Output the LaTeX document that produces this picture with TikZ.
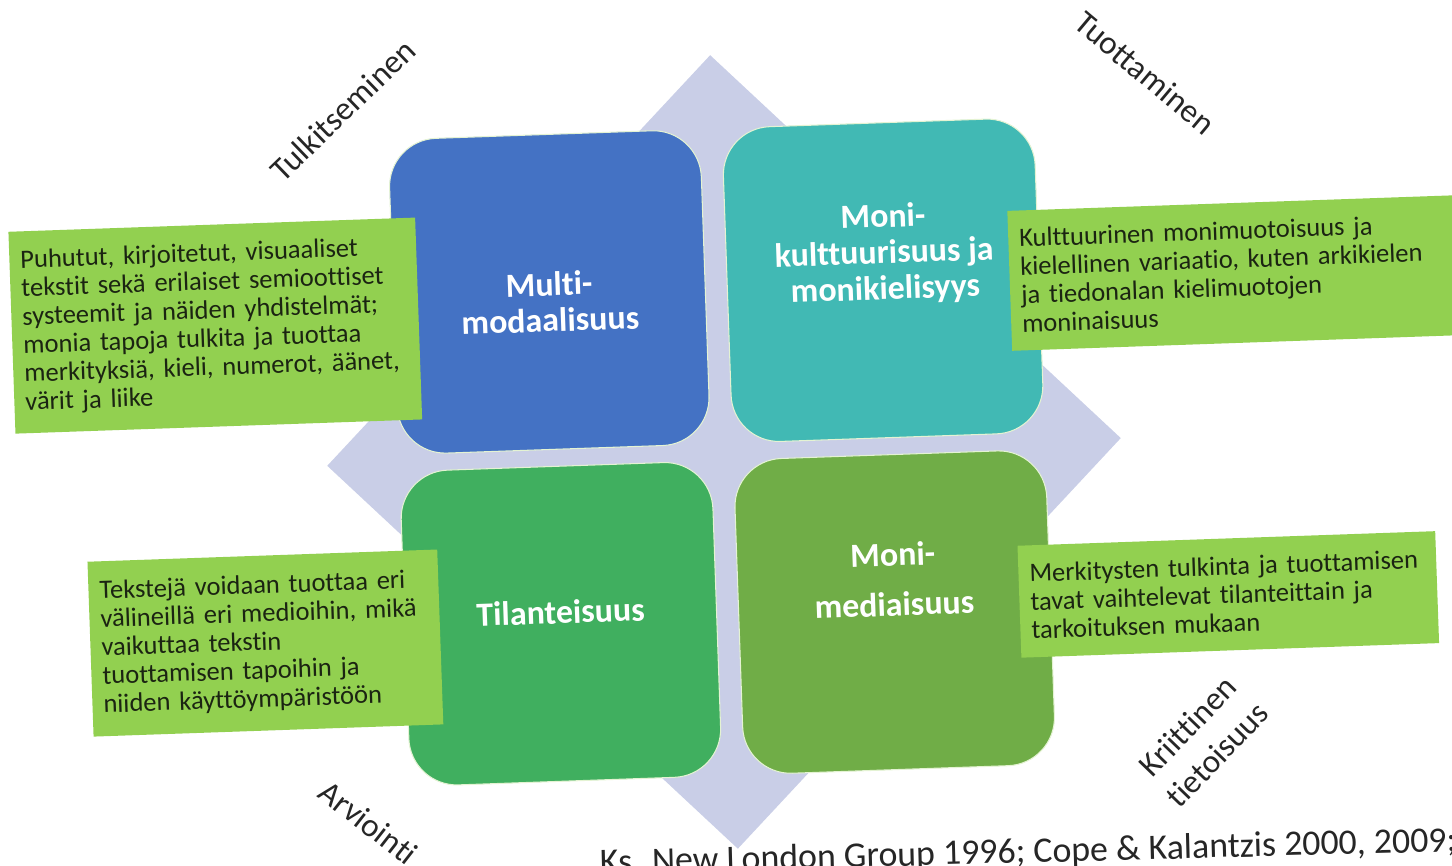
\documentclass[tikz,border=0pt]{standalone}
\usepackage{fontspec}
\setmainfont{Carlito}[Ligatures={NoCommon,NoContextual}, Contextuals=NoAlternate]
\usetikzlibrary{positioning}
\usepackage{xcolor}

\definecolor{diamondfill}{HTML}{C9CEE7}
\definecolor{multiblue}{HTML}{4472C4}
\definecolor{moniteal}{HTML}{41B9B4}
\definecolor{tilagreen}{HTML}{40AF5F}
\definecolor{mediagreen}{HTML}{70AD47}
\definecolor{notegreen}{HTML}{92D050}
\definecolor{notetext}{HTML}{1B2412}

\tikzset{
  quad/.style={rounded corners=0.96cm, minimum width=6.24cm, minimum height=6.3cm,
    draw=white!75!notegreen, line width=0.6pt, inner sep=0pt},
  quadlabel/.style={text=white, font=\fontsize{19.3}{20.5}\selectfont\bfseries, align=center},
  note/.style={fill=notegreen, align=left, inner xsep=0.22cm, inner ysep=0pt,
    font=\fontsize{15.1}{16.2}\selectfont, text=notetext},
  axislabel/.style={font=\fontsize{18.8}{23.5}\selectfont, align=center, text=black!85},
}

\begin{document}
\begin{tikzpicture}[x=0.02cm, y=-0.02cm]
    \useasboundingbox (0,0) rectangle (1452,865);
    \clip (0,0) rectangle (1452,865);

    \begin{scope}[rotate around={2:(722,452)}, transform shape]
    % Background diamond
    \fill[diamondfill] (724,55) -- (1121,452) -- (724,849) -- (327,452) -- cycle;

    % Four quadrants
    \node[quad, fill=multiblue] (multi) at (555,286) {};
    \node[quad, fill=moniteal] (moni) at (889,286) {};
    \node[quad, fill=tilagreen] (tila) at (555,618) {};
    \node[quad, fill=mediagreen] (media) at (889,618) {};

    \node[quadlabel] (multiT) at (555,296) {Multi-\\modaalisuus};
    \node[quadlabel] (moniT) at (891,260) {Moni-\\kulttuurisuus ja\\monikielisyys};
    \node[quadlabel] (tilaT) at (555,606) {Tilanteisuus};
    \node[quadlabel, font=\fontsize{19.3}{28.5}\selectfont\bfseries] (mediaT) at (889,585) {Moni-\\mediaisuus};

    % Notes
    \node[note, text width=7.7cm, minimum height=4.04cm] (noteA) at (220,308)
      {Puhutut, kirjoitetut, visuaaliset\\tekstit sekä erilaiset semioottiset\\systeemit ja näiden yhdistelmät;\\monia tapoja tulkita ja tuottaa\\merkityksiä, kieli, numerot, äänet,\\värit ja liike};
    \node[note, text width=8.46cm, minimum height=2.8cm] (noteB) at (1238,291)
      {Kulttuurinen monimuotoisuus ja\\kielellinen variaatio, kuten arkikielen\\ja tiedonalan kielimuotojen\\moninaisuus};
    \node[note, text width=6.56cm, minimum height=3.5cm] (noteC) at (259,627)
      {Tekstejä voidaan tuottaa eri\\välineillä eri medioihin, mikä\\vaikuttaa tekstin\\tuottamisen tapoihin ja\\niiden käyttöympäristöön};
    \node[note, text width=7.92cm, minimum height=2.24cm] (noteD) at (1223,612)
      {Merkitysten tulkinta ja tuottamisen\\tavat vaihtelevat tilanteittain ja\\tarkoituksen mukaan};

    % Corner labels
    \node[axislabel, rotate=42] (tulk) at (355,97) {Tulkitseminen};
    \node[axislabel, rotate=-42] (tuot) at (1158,88) {Tuottaminen};
    \node[axislabel, rotate=44] (krit) at (1192,757) {Kriittinen\\tietoisuus};
    \node[axislabel, rotate=-40] (arvi) at (356,810) {Arviointi};
    \end{scope}

    \node[font=\fontsize{20.4}{24}\selectfont, anchor=base west, rotate=1.5, text=black!85] (src) at (594,874)
      {Ks. New London Group 1996; Cope \& Kalantzis 2000, 2009;};
\end{tikzpicture}
\end{document}
